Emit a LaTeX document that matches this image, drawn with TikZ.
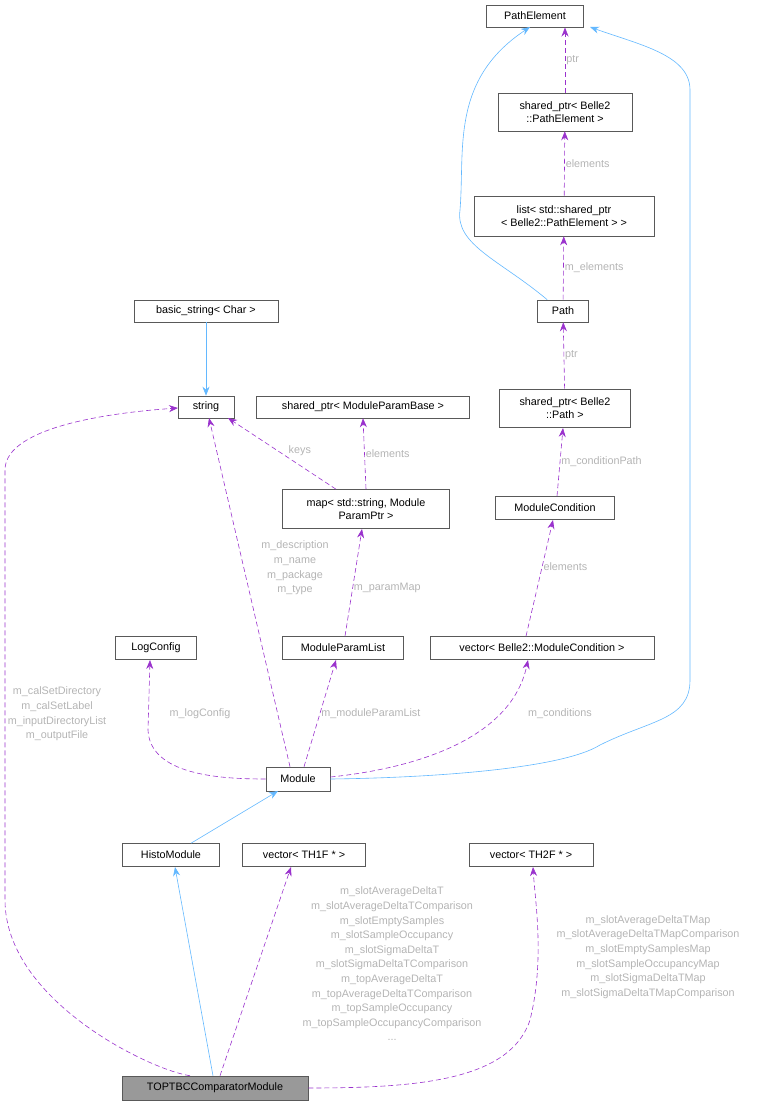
\documentclass[tikz,border=0pt]{standalone}
\usepackage{fontspec}
\setmainfont{Liberation Sans}
\usetikzlibrary{arrows.meta}
\definecolor{edgeblue}{HTML}{63B8FF}
\definecolor{edgepurple}{HTML}{9A32CD}
\definecolor{lbl}{HTML}{B4B4B4}
\begin{document}
\begin{tikzpicture}[x=1pt,y=-1pt,
  box/.style={draw=black!65,fill=white,inner sep=2pt,align=center,font=\fontsize{10.8}{13}\selectfont,line width=0.6pt},
  inh/.style={draw=edgeblue,line width=0.6pt,-{Stealth[length=9pt,width=7pt,fill=edgeblue]}},
  use/.style={draw=edgepurple,line width=0.6pt,dashed,dash pattern=on 5pt off 3pt,-{Stealth[length=9pt,width=7pt,fill=edgepurple]}},
  lab/.style={text=lbl,font=\fontsize{10.8}{14.6}\selectfont,align=center,inner sep=1pt}]
\useasboundingbox (0,0) rectangle (764,1108);
\node[box,minimum width=97pt,minimum height=22pt] (pe) at (535,16) {PathElement};
\node[box,minimum width=134pt,minimum height=38pt] (sppe) at (565,112) {shared\_ptr< Belle2\\::PathElement >};
\node[box,minimum width=180pt,minimum height=40pt] (list) at (564,216) {list< std::shared\_ptr\\< Belle2::PathElement > >};
\node[box,minimum width=51pt,minimum height=22pt] (path) at (563,311) {Path};
\node[box,minimum width=131pt,minimum height=38pt] (sppath) at (565,408) {shared\_ptr< Belle2\\::Path >};
\node[box,minimum width=119pt,minimum height=23pt] (mc) at (555,508) {ModuleCondition};
\node[box,minimum width=224pt,minimum height=23pt] (vmc) at (542,648) {vector< Belle2::ModuleCondition >};
\node[box,minimum width=144pt,minimum height=22pt] (bs) at (206,311) {basic\_string< Char >};
\node[box,minimum width=56pt,minimum height=22pt] (str) at (206,407) {string};
\node[box,minimum width=213pt,minimum height=22pt] (spmpb) at (363,407) {shared\_ptr< ModuleParamBase >};
\node[box,minimum width=167pt,minimum height=39pt] (map) at (366,509) {map< std::string, Module\\ParamPtr >};
\node[box,minimum width=81pt,minimum height=23pt] (log) at (156,648) {LogConfig};
\node[box,minimum width=121pt,minimum height=23pt] (mpl) at (343,648) {ModuleParamList};
\node[box,minimum width=64pt,minimum height=24pt] (mod) at (298,779) {Module};
\node[box,minimum width=97pt,minimum height=23pt] (histo) at (171,855) {HistoModule};
\node[box,minimum width=123pt,minimum height=23pt] (v1) at (304,855) {vector< TH1F * >};
\node[box,minimum width=124pt,minimum height=23pt] (v2) at (531,855) {vector< TH2F * >};
\node[box,minimum width=186pt,minimum height=24pt,fill=black!40] (top) at (215,1088) {TOPTBCComparatorModule};

% inheritance
\draw[inh] (bs) -- (str);
\draw[inh] (path.north west) ++(10,0) .. controls (500,260) and (455,245) .. (460,210) .. controls (465,150) and (450,80) .. (530,27);
\draw[inh] (mod.east) .. controls (420,778) and (560,770) .. (600,745) .. controls (650,720) and (690,720) .. (690,680) -- (690,90) .. controls (690,55) and (640,45) .. (590,27);
\draw[inh] (histo.north) ++(20,0) -- (278,791);
\draw[inh] (top.north) ++(-2,0) -- (175,867);

% usage
\coordinate (peb) at (565,27.5);
\draw[use] (sppe.north) -- node[lab,right]{ptr} (peb);
\draw[use] (list) -- node[lab,right]{elements} (sppe);
\draw[use] (path) -- node[lab,right]{m\_elements} (list);
\draw[use] (sppath) -- node[lab,right]{ptr} (path);
\draw[use] (mc.north) ++(2,0) -- node[lab,right]{m\_conditionPath} (563,428);
\draw[use] (vmc.north) ++(-16,0) -- node[lab,right,pos=0.6]{elements} (553,520);
\draw[use] (map.north) -- node[lab,right]{elements} (spmpb.south);
\draw[use] (map.north) ++(-30,0) -- node[lab,above right,pos=0.45]{keys} (228,418);
\draw[use] (mpl.north) ++(2,0) -- node[lab,right,pos=0.45]{m\_paramMap} (362,529);
\draw[use] (mod.north) ++(-8,0) -- (209,418);
\node[lab] at (295,568) {m\_description\\m\_name\\m\_package\\m\_type};
\draw[use] (mod.west) .. controls (220,779) and (150,775) .. (148,730) -- (150,660);
\node[lab] at (200,714) {m\_logConfig};
\draw[use] (mod.north) ++(6,0) -- node[lab,right,pos=0.5]{m\_moduleParamList} (336,660);
\draw[use] (mod.east) ++(0,-2) .. controls (400,770) and (510,745) .. (528,660);
\node[lab] at (560,714) {m\_conditions};
\draw[use] (top.north) ++(-25,0) .. controls (150,1070) and (5,1000) .. (5,900) -- (5,470) .. controls (5,425) and (120,412) .. (178,408);
\node[lab] at (57,714) {m\_calSetDirectory\\m\_calSetLabel\\m\_inputDirectoryList\\m\_outputFile};
\draw[use] (top.north) ++(5,0) -- (291,867);
\node[lab] at (392,964) {m\_slotAverageDeltaT\\m\_slotAverageDeltaTComparison\\m\_slotEmptySamples\\m\_slotSampleOccupancy\\m\_slotSigmaDeltaT\\m\_slotSigmaDeltaTComparison\\m\_topAverageDeltaT\\m\_topAverageDeltaTComparison\\m\_topSampleOccupancy\\m\_topSampleOccupancyComparison\\...};
\draw[use] (top.east) .. controls (420,1088) and (510,1080) .. (530,1020) .. controls (545,960) and (535,900) .. (533,867);
\node[lab] at (648,957) {m\_slotAverageDeltaTMap\\m\_slotAverageDeltaTMapComparison\\m\_slotEmptySamplesMap\\m\_slotSampleOccupancyMap\\m\_slotSigmaDeltaTMap\\m\_slotSigmaDeltaTMapComparison};
\end{tikzpicture}
\end{document}
